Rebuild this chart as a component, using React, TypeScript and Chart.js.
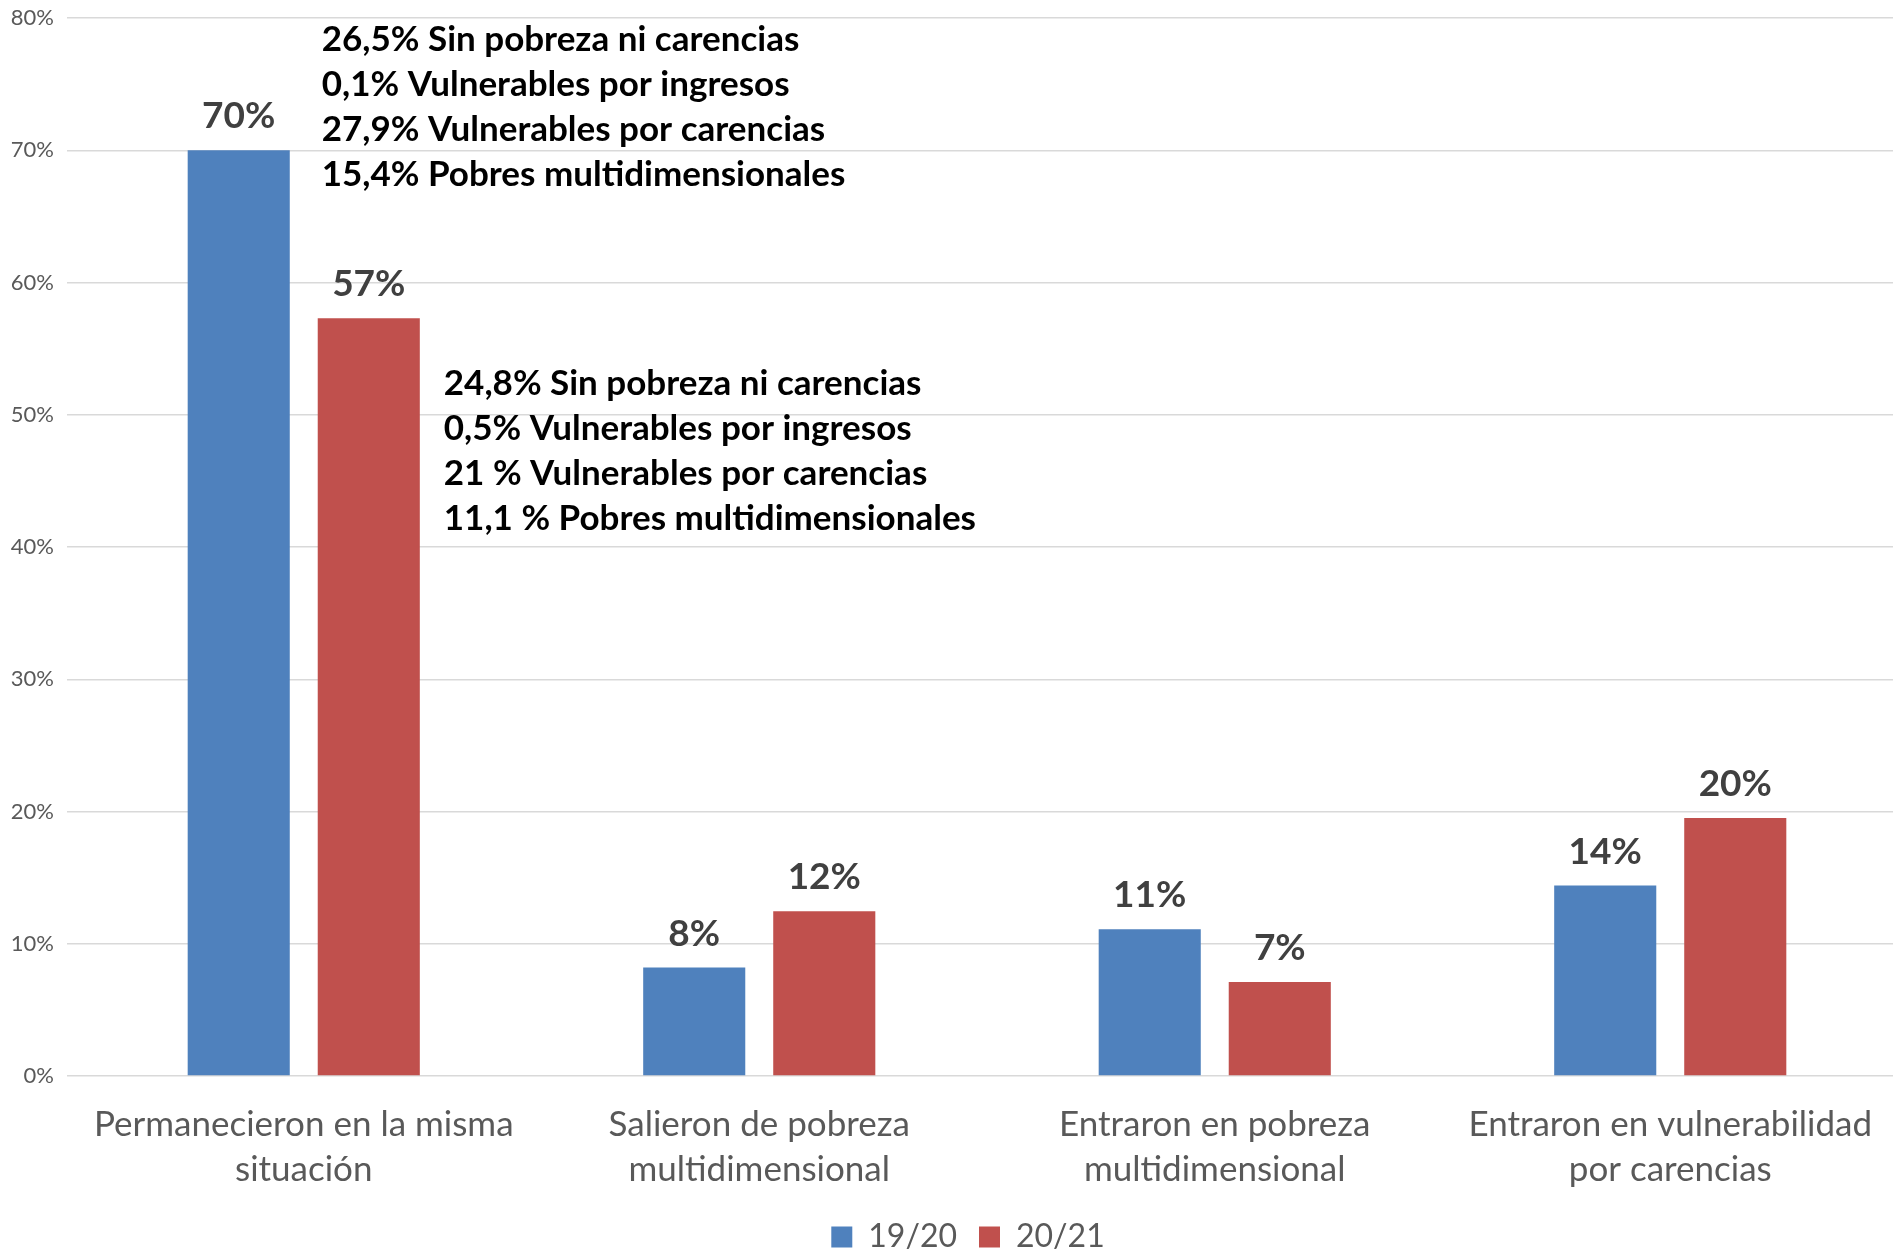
import React, { useEffect, useRef } from "react";
import { Chart, registerables } from "chart.js";

Chart.register(...registerables);

// ---- data ----
const categories: string[][] = [
  ["Permanecieron en la misma", "situación"],
  ["Salieron de pobreza", "multidimensional"],
  ["Entraron en pobreza", "multidimensional"],
  ["Entraron en vulnerabilidad", "por carencias"],
];
const seriesNames = ["19/20", "20/21"];
const values1920 = [70, 8.2, 11.1, 14.4];
const values2021 = [57.3, 12.45, 7.1, 19.5];
const yTickValues = [0, 10, 20, 30, 40, 50, 60, 70, 80];
const breakdown1920 = [
  "26,5% Sin pobreza ni carencias",
  "0,1% Vulnerables por ingresos",
  "27,9% Vulnerables por carencias",
  "15,4% Pobres multidimensionales",
];
const breakdown2021 = [
  "24,8% Sin pobreza ni carencias",
  "0,5% Vulnerables por ingresos",
  "21 % Vulnerables por carencias",
  "11,1 % Pobres multidimensionales",
];

const BLUE = "#4F81BD";
const RED = "#C0504D";
const AXIS_TEXT = "#595959";
const GRID = "#D9D9D9";
const FONT = "Lato, 'Open Sans', sans-serif";

const W = 1905;
const H = 1263;

const labelsPlugin = {
  id: "barValueLabels",
  afterDatasetsDraw(chart: any) {
    const ctx = chart.ctx;
    ctx.save();
    ctx.font = `bold 37px ${FONT}`;
    ctx.fillStyle = "#404040";
    ctx.textAlign = "center";
    ctx.textBaseline = "alphabetic";
    chart.data.datasets.forEach((ds: any, di: number) => {
      const meta = chart.getDatasetMeta(di);
      meta.data.forEach((el: any, i: number) => {
        const v = ds.data[i];
        ctx.fillText(`${Math.round(v)}%`, el.x, el.y - 22);
      });
    });
    ctx.restore();
  },
};

const breakdownPlugin = {
  id: "breakdownText",
  afterDatasetsDraw(chart: any) {
    const ctx = chart.ctx;
    const y = chart.scales.y;
    const redBar: any = chart.getDatasetMeta(1).data[0];
    const redLeft = redBar.x - redBar.width / 2;
    const redRight = redBar.x + redBar.width / 2;
    ctx.save();
    ctx.font = `bold 35px ${FONT}`;
    ctx.fillStyle = "#000000";
    ctx.textAlign = "left";
    ctx.textBaseline = "alphabetic";
    const lineGap = 45;
    const y1 = y.getPixelForValue(77.5);
    breakdown1920.forEach((t, i) => ctx.fillText(t, redLeft + 4, y1 + i * lineGap));
    const y2 = y.getPixelForValue(51.5);
    breakdown2021.forEach((t, i) => ctx.fillText(t, redRight + 24, y2 + i * lineGap));
    ctx.restore();
  },
};

const legendShiftPlugin = {
  id: "legendShift",
  afterLayout(chart: any) {
    const lg = chart.legend;
    if (lg) {
      lg.left += 19;
      lg.right += 19;
    }
  },
};

export default function App() {
  const ref = useRef<HTMLCanvasElement | null>(null);

  useEffect(() => {
    if (!ref.current) return;
    const chart = new Chart(ref.current, {
      type: "bar",
      data: {
        labels: categories,
        datasets: [
          {
            label: seriesNames[0],
            data: values1920,
            backgroundColor: BLUE,
            borderWidth: 0,
            categoryPercentage: 0.571,
            barPercentage: 0.785,
          },
          {
            label: seriesNames[1],
            data: values2021,
            backgroundColor: RED,
            borderWidth: 0,
            categoryPercentage: 0.571,
            barPercentage: 0.785,
          },
        ],
      },
      options: {
        responsive: false,
        animation: false,
        devicePixelRatio: 1,
        layout: { padding: { left: 0, right: 7, top: 18, bottom: 0 } },
        plugins: {
          legend: {
            position: "bottom",
            labels: {
              boxWidth: 21,
              boxHeight: 21,
              padding: 22,
              color: AXIS_TEXT,
              font: { family: FONT, size: 32 },
            },
          },
          tooltip: { enabled: false },
          title: { display: false },
        },
        scales: {
          x: {
            grid: { display: false, drawTicks: false },
            border: { display: false },
            ticks: {
              color: AXIS_TEXT,
              padding: 26,
              maxRotation: 0,
              autoSkip: false,
              font: { family: FONT, size: 35, lineHeight: "45px" },
            },
            afterFit(scale: any) {
              scale.height = 123;
              scale.paddingLeft = 0;
              scale.paddingRight = 0;
            },
          },
          y: {
            min: 0,
            max: 80,
            afterBuildTicks(scale: any) {
              scale.ticks = yTickValues.map((v) => ({ value: v }));
            },
            grid: {
              color: GRID,
              lineWidth: 1.5,
              drawTicks: true,
              tickLength: 9,
              tickColor: GRID,
            },
            border: { display: false },
            ticks: {
              color: AXIS_TEXT,
              padding: 13,
              font: { family: FONT, size: 22 },
              callback: (v: any) => `${v}%`,
            },
            afterFit(scale: any) {
              scale.width = 76;
              scale.paddingTop = 0;
              scale.paddingBottom = 0;
            },
          },
        },
      },
      plugins: [labelsPlugin, breakdownPlugin, legendShiftPlugin],
    });
    return () => chart.destroy();
  }, []);

  return (
    <div
      style={{
        position: "fixed",
        left: 0,
        top: 0,
        width: 1893,
        height: 1253,
        overflow: "hidden",
        background: "#ffffff",
      }}
    >
      <canvas ref={ref} width={W} height={H} style={{ display: "block", width: W, height: H }} />
    </div>
  );
}
